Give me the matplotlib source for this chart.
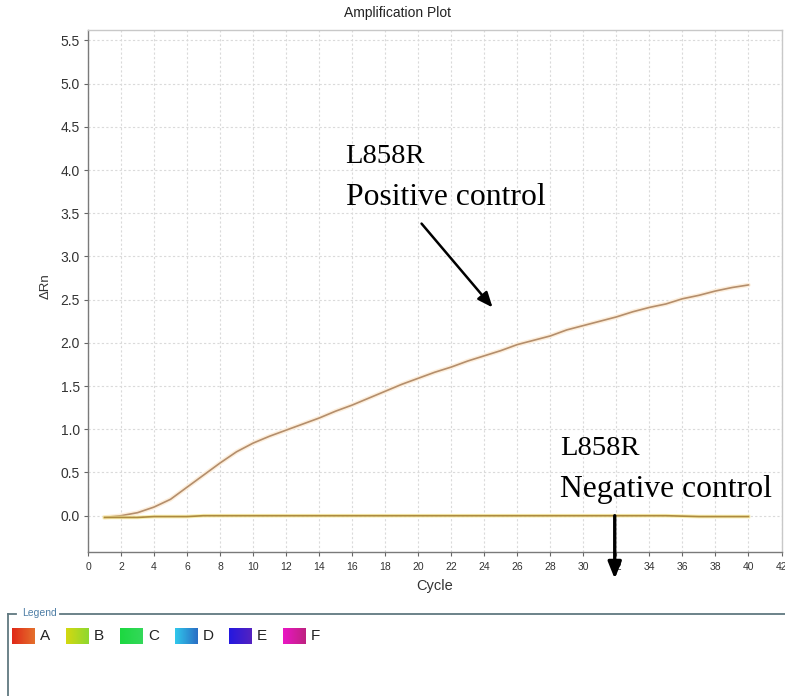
import numpy as np
import matplotlib
matplotlib.use("Agg")
import matplotlib.pyplot as plt
from matplotlib.colors import LinearSegmentedColormap

# Amplification data (delta Rn per cycle)
cycles = list(range(1, 41))
positive_control = [
    -0.02, 0.00, 0.035, 0.10, 0.19, 0.33, 0.47, 0.61, 0.74, 0.84,
    0.92, 0.99, 1.06, 1.13, 1.21, 1.28, 1.36, 1.44, 1.52, 1.59,
    1.66, 1.72, 1.79, 1.85, 1.91, 1.98, 2.03, 2.08, 2.15, 2.20,
    2.25, 2.30, 2.36, 2.41, 2.45, 2.51, 2.55, 2.60, 2.64, 2.67,
]
negative_control = [
    -0.02, -0.02, -0.02, -0.01, -0.01, -0.01, 0.00, 0.00, 0.00, 0.00,
    0.00, 0.00, 0.00, 0.00, 0.00, 0.00, 0.00, 0.00, 0.00, 0.00,
    0.00, 0.00, 0.00, 0.00, 0.00, 0.00, 0.00, 0.00, 0.00, 0.00,
    0.00, 0.00, 0.00, 0.00, 0.00, -0.005, -0.01, -0.01, -0.01, -0.01,
]

x_ticks = list(range(0, 43, 2))
y_ticks = [0.0, 0.5, 1.0, 1.5, 2.0, 2.5, 3.0, 3.5, 4.0, 4.5, 5.0, 5.5]

legend_names = ["A", "B", "C", "D", "E", "F"]
legend_colors = [
    ("#e02818", "#e4702c"),
    ("#d4d810", "#8ed830"),
    ("#1cd840", "#34d85a"),
    ("#30c8ec", "#2a6ec4"),
    ("#2418e0", "#5422c0"),
    ("#ea16c4", "#be2280"),
]

W, H = 785, 696
fig = plt.figure(figsize=(W / 100, H / 100), dpi=100)
fig.patch.set_facecolor("white")

sans = "Liberation Sans"
serif = "Liberation Serif"

ax = fig.add_axes([88 / W, 1 - 552 / H, (781.5 - 88) / W, (552 - 30) / H])
ax.set_xlim(0, 42)
ax.set_ylim(-0.42, 5.62)
ax.set_xticks(x_ticks)
ax.set_yticks(y_ticks)
ax.set_yticklabels([f"{v:.1f}" for v in y_ticks])
ax.tick_params(colors="#666666", labelcolor="#333333",
               length=3, width=0.8, direction="out")
ax.tick_params(axis="x", labelsize=7.5, pad=4)
ax.tick_params(axis="y", labelsize=10, pad=3)
for lab in ax.get_xticklabels() + ax.get_yticklabels():
    lab.set_family(sans)
for s in ["left", "bottom"]:
    ax.spines[s].set_color("#7a7a7a")
    ax.spines[s].set_linewidth(1.0)
for s in ["top", "right"]:
    ax.spines[s].set_color("#c8c8c8")
    ax.spines[s].set_linewidth(1.0)
ax.grid(True, color="#dadada", linestyle=(0, (2, 2)), linewidth=0.8)
ax.set_axisbelow(True)

# Curves with a soft halo underneath
ax.plot(cycles, positive_control, color="#fdeedb", lw=3.2, solid_capstyle="round")
ax.plot(cycles, positive_control, color="#b48e6c", lw=1.2)
ax.plot(cycles, negative_control, color="#f6ea9a", lw=2.6, alpha=0.8)
ax.plot(cycles, negative_control, color="#ad8a40", lw=1.2)

ax.set_title("Amplification Plot", fontsize=10, color="#222222",
             family=sans, x=0.447, y=1.0, pad=9)
ax.set_xlabel("Cycle", fontsize=10.5, color="#333333", family=sans,
              labelpad=5)
ax.set_ylabel("\u0394Rn", fontsize=9.5, color="#333333", family=sans)
ax.yaxis.set_label_coords(-0.053, 0.51)

# Annotations
ax.text(15.6, 4.08, "L858R", fontsize=20.5, family=serif, color="black",
        va="baseline", ha="left")
ax.text(15.6, 3.59, "Positive control", fontsize=22.8, family=serif,
        color="black", va="baseline", ha="left")
ax.annotate("", xy=(24.5, 2.41), xytext=(20.2, 3.38),
            arrowprops=dict(arrowstyle="-|>,head_length=0.9,head_width=0.38",
                            color="black", lw=1.8, shrinkA=0, shrinkB=0))
ax.text(28.6, 0.70, "L858R", fontsize=20.5, family=serif, color="black",
        va="baseline", ha="left")
ax.text(28.6, 0.215, "Negative control", fontsize=22.8, family=serif,
        color="black", va="baseline", ha="left")
ax.annotate("", xy=(31.9, -0.73), xytext=(31.9, 0.0),
            annotation_clip=False,
            arrowprops=dict(arrowstyle="-|>,head_length=1.0,head_width=0.4",
                            color="black", lw=2.4, shrinkA=0, shrinkB=0))

# Legend panel
lax = fig.add_axes([0, 0, 1, 100 / H])
lax.set_xlim(0, W)
lax.set_ylim(100, 0)
lax.axis("off")
frame = "#607880"
lax.plot([8, 8], [100, 17.5], color=frame, lw=1.3)
lax.plot([8, 16], [17.5, 17.5], color=frame, lw=1.3)
lax.plot([60, W], [17.5, 17.5], color=frame, lw=1.3)
lax.text(22, 17, "Legend", fontsize=7.5, color="#4f7fa6", va="center",
         ha="left", family=sans)

grad = np.linspace(0, 1, 64).reshape(1, -1)
x0 = 11.7
for name, (c1, c2) in zip(legend_names, legend_colors):
    cmap = LinearSegmentedColormap.from_list(name, [c1, c2])
    lax.imshow(grad, cmap=cmap, extent=(x0, x0 + 22.6, 48, 32), aspect="auto",
               interpolation="bilinear")
    lax.text(x0 + 28, 40.5, name, fontsize=11, color="#222222", va="center",
             ha="left", family=sans)
    x0 += 54.3
lax.set_xlim(0, W)
lax.set_ylim(100, 0)

fig.savefig("out.png", dpi=100, facecolor="white")
